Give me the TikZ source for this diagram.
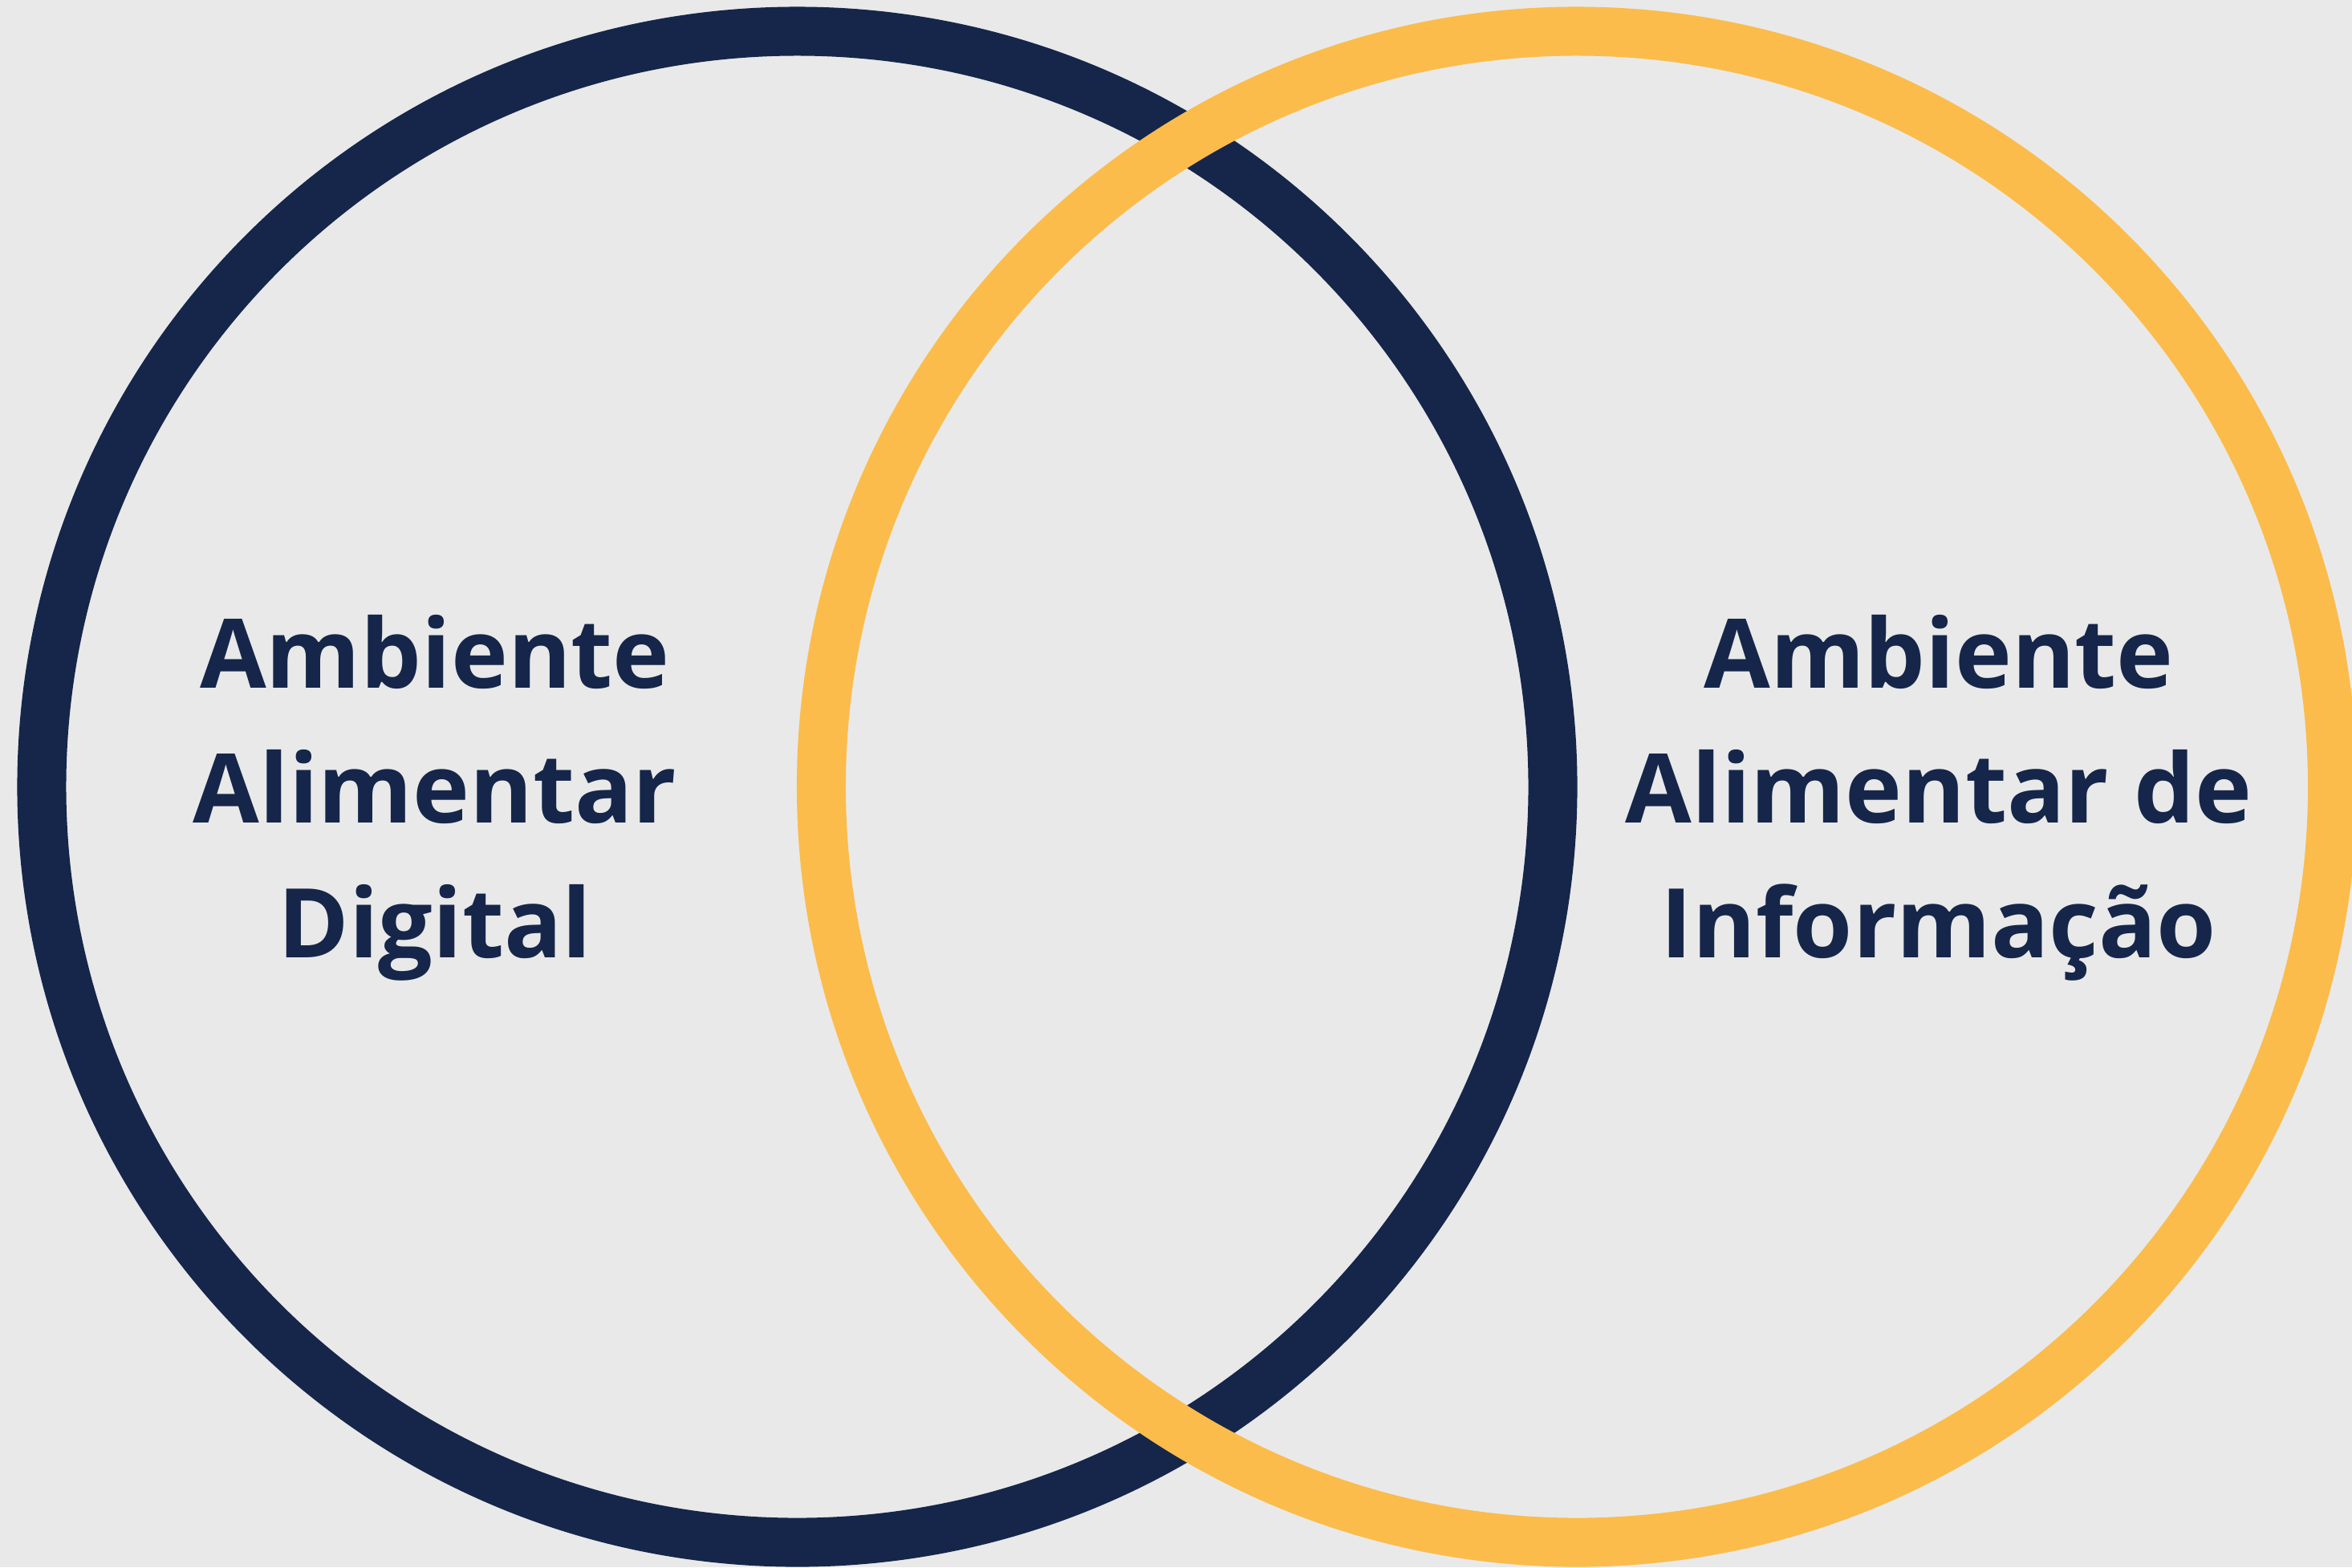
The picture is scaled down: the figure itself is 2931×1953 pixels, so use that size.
\documentclass[tikz,border=0pt]{standalone}
\usepackage{fontspec}
\usepackage{xcolor}
\newfontfamily\vennfont{Open Sans}
\definecolor{navyring}{HTML}{15264A}
\definecolor{goldring}{HTML}{FBBC4B}
\definecolor{paper}{HTML}{E9E9E9}

\begin{document}
\begin{tikzpicture}[x=0.01cm, y=-0.01cm,
  ring/.style={circle, line width=0.61cm, minimum size=18.82cm, inner sep=0pt},
  every node/.style={text=navyring, align=center, inner sep=0pt,
    font=\vennfont\bfseries\fontsize{34.1pt}{1.68cm}\selectfont}]
\fill[paper] (0,0) rectangle (2931,1953);
\path[use as bounding box, clip] (0,0) rectangle (2931,1953);
% the two sets
\node[ring, draw=navyring] (digital) at (993.5,980.5) {};
\node[ring, draw=goldring] (info) at (1965,980.5) {};
% labels
\node (digitalLabel) at (542,994) {Ambiente\\Alimentar\\Digital};
\node (infoLabel) at (2416,994) {Ambiente\\Alimentar de\\Informação};
\end{tikzpicture}
\end{document}
